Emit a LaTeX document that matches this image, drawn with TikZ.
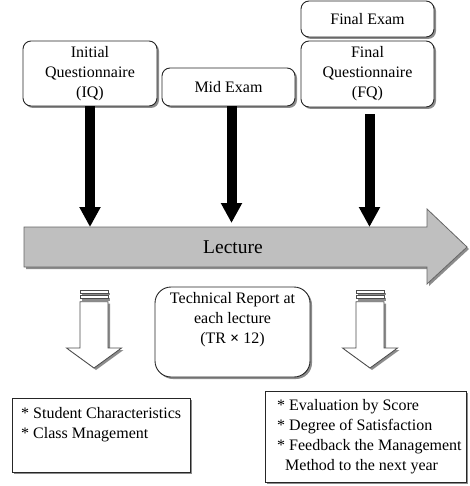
\documentclass[tikz,border=0pt]{standalone}
\usepackage{fontspec}
\setmainfont{Liberation Serif}
\usetikzlibrary{arrows.meta,shadows,positioning}

\tikzset{
  castshadow/.style={drop shadow={shadow xshift=2pt, shadow yshift=-2pt, fill=black!45, opacity=1}},
  roundbox/.style={draw=black!85, line width=0.9pt, rounded corners=8pt, fill=white,
    align=center, inner sep=0pt, castshadow},
  plainbox/.style={draw=black!85, line width=0.9pt, fill=white, inner sep=0pt, castshadow},
  pushdown/.style={line width=10pt, -{Triangle[length=20pt,width=20pt]}},
  hollow/.style={draw=black!70, line width=0.8pt, fill=white, castshadow},
  bullets/.style={align=left, inner sep=0pt},
}

\begin{document}
\begin{tikzpicture}[x=1pt, y=-1pt, every node/.style={font=\fontsize{16}{20}\selectfont}]
    \useasboundingbox (0,0) rectangle (469,486);
    % top boxes
    \node[roundbox, minimum width=134, minimum height=65] (iq) at (90,73.5) {Initial\\Questionnaire\\(IQ)};
    \node[roundbox, minimum width=133, minimum height=38] (mid) at (228.5,87) {Mid Exam};
    \node[roundbox, minimum width=133, minimum height=36] (fexam) at (367.5,19) {Final Exam};
    \node[roundbox, minimum width=133, minimum height=66] (fq) at (367.5,74) {Final\\Questionnaire\\(FQ)};
    % lecture arrow
    \draw[draw=black!60, line width=0.8pt, fill=black!25, castshadow]
        (24,227) -- (427,227) -- (427,209) -- (467,247) -- (427,284) -- (427,267) -- (24,267) -- cycle;
    \node[font=\fontsize{19.5}{24}\selectfont] (lecture) at (233,247) {Lecture};
    \coordinate (lectop) at (0,227);
    \coordinate (midend) at (0,223);
    \draw[pushdown] (iq.south) -- (iq.south |- lectop);
    \draw[pushdown] ([xshift=3pt]mid.south) -- ([xshift=3pt]mid.south |- midend);
    \draw[pushdown, shorten <=7pt] ([xshift=2pt]fq.south) -- ([xshift=2pt]fq.south |- lectop);
    % hollow arrows
    \foreach \cx in {94,370} {
        \draw[hollow] ({\cx-14},290.7) rectangle ({\cx+14},293.3);
        \draw[hollow] ({\cx-14},295.7) rectangle ({\cx+14},298.7);
        \draw[hollow] ({\cx-14},301.7) -- ({\cx+14},301.7) -- ({\cx+14},348) -- ({\cx+27.5},348)
            -- (\cx,368) -- ({\cx-27.5},348) -- ({\cx-14},348) -- cycle;
    }
    % technical report
    \node[roundbox, rounded corners=16pt, minimum width=155, minimum height=90,
        label={[align=center, yshift=12pt]center:Technical Report at\\each lecture\\(TR \textbf{×} 12)}]
        (tr) at (232.5,332) {};
    % result boxes
    \node[plainbox, minimum width=178, minimum height=74, anchor=north west] (traits) at (12,398) {};
    \node[bullets, below right=9.6pt and 9pt of traits.north west] (traitstext)
        {* Student Characteristics\\* Class Mnagement};
    \node[plainbox, minimum width=201, minimum height=91, anchor=north west] (results) at (265,391) {};
    \node[bullets, below right=8.6pt and 12pt of results.north west] (resultstext)
        {* Evaluation by Score\\* Degree of Satisfaction\\* Feedback the Management\\\hspace*{0.5em}Method to the next year};
\end{tikzpicture}
\end{document}
